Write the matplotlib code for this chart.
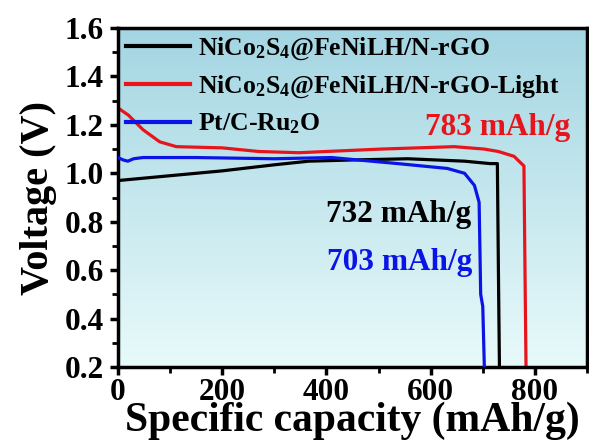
import numpy as np
import matplotlib
matplotlib.use("Agg")
import matplotlib.pyplot as plt
from matplotlib.colors import LinearSegmentedColormap
from matplotlib.ticker import MultipleLocator, FormatStrFormatter

# ============================================
# DATA
# ============================================
black_cap = [0, 100, 200, 300, 366, 450, 556, 665, 714, 728, 730, 732]
black_v = [0.97, 0.99, 1.01, 1.035, 1.05, 1.055, 1.06, 1.05, 1.04, 1.04, 0.6, 0.2]

red_cap = [0, 20, 48, 80, 112, 200, 270, 347, 505, 645, 703, 730, 760, 779, 781, 783]
red_v = [1.27, 1.24, 1.18, 1.13, 1.11, 1.105, 1.09, 1.085, 1.10, 1.11, 1.10, 1.09, 1.07, 1.03, 0.6, 0.2]

blue_cap = [0, 10, 19, 30, 48, 150, 300, 410, 537, 632, 665, 684, 693, 696, 700, 703]
blue_v = [1.065, 1.055, 1.05, 1.06, 1.065, 1.065, 1.06, 1.065, 1.04, 1.02, 1.0, 0.95, 0.88, 0.5, 0.45, 0.2]

labels = [r"NiCo$_\mathbf{2}$S$_\mathbf{4}$@FeNiLH/N-rGO",
          r"NiCo$_\mathbf{2}$S$_\mathbf{4}$@FeNiLH/N-rGO-Light",
          r"Pt/C-Ru$_\mathbf{2}$O"]
colors = ["black", "#e8141b", "#0b14e6"]

ann_text = ["783 mAh/g", "732 mAh/g", "703 mAh/g"]
ann_x = [868, 677, 679]
ann_y = [1.19, 0.83, 0.63]
ann_col = ["#e8141b", "black", "#0b14e6"]

# ============================================
# STYLE
# ============================================
plt.rcParams["font.family"] = ["Liberation Serif", "DejaVu Serif"]
plt.rcParams["font.weight"] = "bold"
plt.rcParams["mathtext.fontset"] = "custom"
plt.rcParams["mathtext.rm"] = "Liberation Serif:bold"
plt.rcParams["mathtext.bf"] = "Liberation Serif:bold"
plt.rcParams["mathtext.it"] = "Liberation Serif:italic:bold"

fig = plt.figure(figsize=(5.89, 4.48), dpi=100)
ax = fig.add_axes([0.2003, 0.1808, 0.7963, 0.7567])

# gradient background
grad = LinearSegmentedColormap.from_list("bg", ["#e8fafa", "#a3d5e2"])
ax.imshow(np.linspace(0, 1, 256).reshape(-1, 1), cmap=grad, aspect="auto",
          origin="lower", extent=[0, 1, 0, 1], transform=ax.transAxes, zorder=0)

ax.plot(black_cap, black_v, color=colors[0], lw=2.3, label=labels[0], zorder=3)
ax.plot(red_cap, red_v, color=colors[1], lw=2.3, label=labels[1], zorder=2)
ax.plot(blue_cap, blue_v, color=colors[2], lw=2.3, label=labels[2], zorder=4)

for t, x, y, c in zip(ann_text, ann_x, ann_y, ann_col):
    ax.text(x, y, t, color=c, fontsize=22.5, fontweight="bold", ha="right", va="center")

ax.set_xlim(0, 900)
ax.set_ylim(0.2, 1.6)
ax.xaxis.set_major_locator(MultipleLocator(200))
ax.xaxis.set_minor_locator(MultipleLocator(100))
ax.yaxis.set_major_locator(MultipleLocator(0.2))
ax.yaxis.set_minor_locator(MultipleLocator(0.1))
ax.yaxis.set_major_formatter(FormatStrFormatter("%.1f"))
ax.tick_params(which="major", direction="out", length=6, width=2.5, labelsize=22.5, pad=2)
ax.tick_params(axis="y", which="major", pad=4)
ax.tick_params(which="minor", direction="out", length=4, width=2)
for s in ax.spines.values():
    s.set_linewidth(2.5)

ax.set_xlabel("Specific capacity (mAh/g)", fontsize=30, fontweight="bold", labelpad=-4)
ax.set_ylabel("Voltage (V)", fontsize=29, fontweight="bold", labelpad=6)

leg = ax.legend(loc="upper left", frameon=False, fontsize=18.5, handlelength=2.5,
                handletextpad=0.3, labelspacing=0.45, borderaxespad=0.1,
                borderpad=0.2)
for ln in leg.get_lines():
    ln.set_linewidth(3)

fig.savefig("out.png", dpi=100)
